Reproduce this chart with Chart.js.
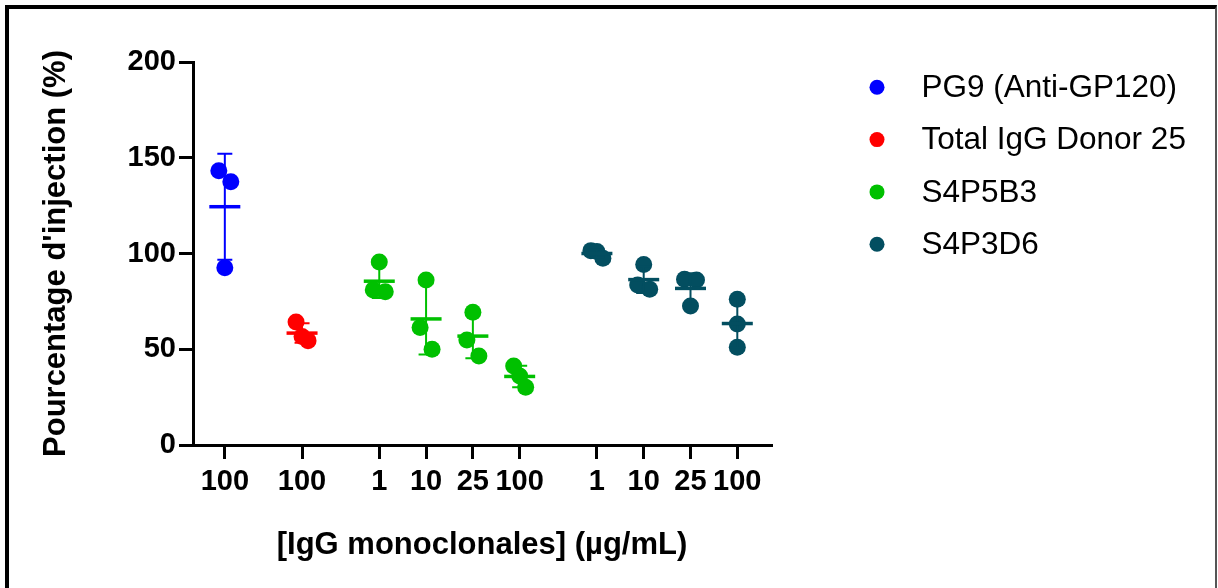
<!DOCTYPE html>
<html>
<head>
<meta charset="utf-8">
<script src="https://cdn.jsdelivr.net/npm/chart.js@4"></script>
<style>
  html, body { margin: 0; padding: 0; background: #fff; }
  #wrap { position: relative; width: 1218px; height: 588px; overflow: hidden; }
  #frame { position: absolute; left: 5px; top: 5px; width: 1212px; height: 620px; box-sizing: border-box;
           border-left: 4px solid #000; border-top: 4px solid #000; border-right: 2px solid #555; }
  canvas { position: absolute; left: 0; top: 0; }
</style>
</head>
<body>
<div id="wrap">
  <div id="frame"></div>
  <canvas id="myChart" width="1218" height="588"></canvas>
</div>
<script>
// Etiquetas del eje X y su posición (Prism deja un hueco entre grupos)
const groupLabels = ['100', '100', '1', '10', '25', '100', '1', '10', '25', '100'];
const groupPos = [0, 1.65, 3.3, 4.3, 5.3, 6.3, 7.95, 8.95, 9.95, 10.95];

const seriesNames = ['PG9 (Anti-GP120)', 'Total IgG Donor 25', 'S4P5B3', 'S4P3D6'];
// qué posiciones del eje usa cada serie
const seriesGroups = [[0], [1], [2, 3, 4, 5], [6, 7, 8, 9]];

// valores (% d'injection), tres réplicas por grupo
const pg9 = [[143.2, 137.5, 92.6]];
const totalIgG = [[64.2, 56.6, 54.5]];
const s4p5b3 = [[95.6, 81, 80], [86.2, 61.3, 50], [69.3, 54.8, 46.5], [41.3, 36, 30.1]];
const s4p3d6 = [[101.5, 101, 97.5], [94.3, 83.5, 81.3], [86.5, 86.2, 72.6], [76.1, 63.2, 51]];
const seriesValues = [pg9, totalIgG, s4p5b3, s4p3d6];

// orden de dispersión horizontal de los puntos (-1 izq, 0 centro, 1 der)
const jitter = [
  [[-1, 1, 0]],
  [[-1, 0, 1]],
  [[0, -1, 1], [0, -1, 1], [0, -1, 1], [-1, 0, 1]],
  [[-1, 0, 1], [0, -1, 1], [-1, 1, 0], [0, 0, 0]],
];
const JITTER_STEP = 0.128;

const colors = ['#0000ff', '#ff0000', '#00c000', '#034e60'];
const FONT = "Arial, 'Liberation Sans', sans-serif";

Chart.defaults.font.family = FONT;
Chart.defaults.color = '#000';

const datasets = seriesValues.map((groups, s) => ({
  label: seriesNames[s],
  data: groups.flatMap((vals, g) =>
    vals.map((v, i) => ({ x: groupPos[seriesGroups[s][g]] + jitter[s][g][i] * JITTER_STEP, y: v }))),
  backgroundColor: colors[s],
  borderColor: colors[s],
  borderWidth: 0,
  pointRadius: 8.5,
  pointHoverRadius: 8.5,
}));

function meanSd(vals) {
  const mean = vals.reduce((a, b) => a + b, 0) / vals.length;
  const variance = vals.reduce((a, v) => a + (v - mean) * (v - mean), 0) / (vals.length - 1);
  return { mean, sd: Math.sqrt(variance) };
}

// media + desviación estándar dibujadas con las escalas del gráfico
const meanSdPlugin = {
  id: 'meanSd',
  afterDatasetsDraw(chart) {
    const { ctx, scales: { x, y } } = chart;
    ctx.save();
    seriesValues.forEach((groups, s) => {
      ctx.strokeStyle = colors[s];
      groups.forEach((vals, g) => {
        const { mean, sd } = meanSd(vals);
        const px = x.getPixelForValue(groupPos[seriesGroups[s][g]]);
        const top = y.getPixelForValue(mean + sd);
        const bot = y.getPixelForValue(mean - sd);
        const my = y.getPixelForValue(mean);
        ctx.lineWidth = 2;
        ctx.beginPath();
        ctx.moveTo(px, top); ctx.lineTo(px, bot);
        ctx.moveTo(px - 7.5, top); ctx.lineTo(px + 7.5, top);
        ctx.moveTo(px - 7.5, bot); ctx.lineTo(px + 7.5, bot);
        ctx.stroke();
        ctx.lineWidth = 3.5;
        ctx.beginPath();
        ctx.moveTo(px - 15.5, my); ctx.lineTo(px + 15.5, my);
        ctx.stroke();
      });
    });
    ctx.restore();
  }
};

// leyenda a la derecha, estilo Prism
const legendPlugin = {
  id: 'sideLegend',
  afterDraw(chart) {
    const { ctx } = chart;
    const left = chart.chartArea.right + 106;
    ctx.save();
    ctx.font = '31.5px ' + FONT;
    ctx.textBaseline = 'middle';
    chart.data.datasets.forEach((ds, i) => {
      const cy = 87.3 + i * 52.3;
      ctx.fillStyle = ds.backgroundColor;
      ctx.beginPath();
      ctx.arc(left, cy, 7.5, 0, Math.PI * 2);
      ctx.fill();
      ctx.fillStyle = '#000';
      ctx.fillText(ds.label, left + 44.5, cy + 1);
    });
    ctx.restore();
  }
};

const axisGrid = { drawOnChartArea: false, tickLength: 14, lineWidth: 3, color: '#000' };
const axisBorder = { color: '#000', width: 3 };

const ctx = document.getElementById('myChart').getContext('2d');
new Chart(ctx, {
  type: 'scatter',
  data: { datasets },
  options: {
    responsive: false,
    animation: false,
    layout: { padding: { left: 5, top: 62, right: 447, bottom: 0 } },
    plugins: { legend: { display: false }, tooltip: { enabled: false } },
    scales: {
      x: {
        type: 'linear',
        min: -0.68,
        max: 11.67,
        afterBuildTicks: (scale) => { scale.ticks = groupPos.map((v) => ({ value: v })); },
        afterFit: (scale) => { scale.height = 143; },
        ticks: {
          autoSkip: false,
          maxRotation: 0,
          padding: 6,
          font: { size: 29, weight: 'bold' },
          callback: (value, index) => groupLabels[index],
        },
        grid: axisGrid,
        border: axisBorder,
        title: {
          display: true,
          text: '[IgG monoclonales] (µg/mL)',
          font: { size: 31, weight: 'bold' },
          padding: { top: 0, bottom: 24 },
        },
      },
      y: {
        min: 0,
        max: 200,
        afterFit: (scale) => { scale.width = 188; },
        ticks: { stepSize: 50, padding: 3, font: { size: 29, weight: 'bold' } },
        grid: axisGrid,
        border: axisBorder,
        title: {
          display: true,
          text: "Pourcentage d'injection (%)",
          font: { size: 31, weight: 'bold' },
          padding: { top: 33, bottom: 0 },
        },
      },
    },
  },
  plugins: [meanSdPlugin, legendPlugin],
});
</script>
</body>
</html>
